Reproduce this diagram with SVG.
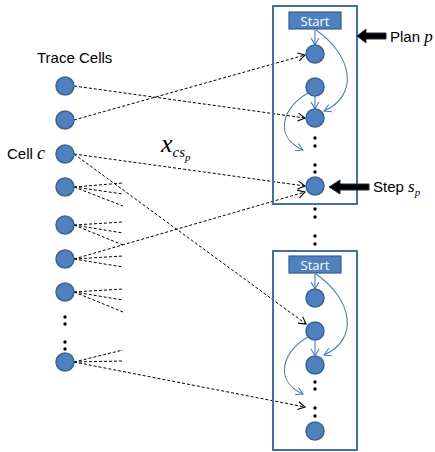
<svg xmlns="http://www.w3.org/2000/svg" width="435" height="452" viewBox="0 0 435 452">
  <style>
    .cell { fill: #4f81bd; stroke: #3a6496; stroke-width: 1.5; }
    .box { fill: none; stroke: #41719c; stroke-width: 2; }
    .start { fill: #4f81bd; stroke: #385d8a; stroke-width: 1.2; }
    .start-t { font-family: "Open Sans", "Liberation Sans", Arial, sans-serif; font-size: 13px; fill: #ffffff; text-anchor: middle; }
    .lbl { font-family: "Liberation Sans", Arial, sans-serif; font-size: 15px; fill: #000; }
    .math { font-family: "Liberation Serif", "Times New Roman", serif; font-style: italic; fill: #000; }
    .dash { fill: none; stroke: #000; stroke-width: 1; stroke-dasharray: 3 2; }
    .flow { fill: none; stroke: #4a7ebb; stroke-width: 1.1; }
    .dot { fill: #000; }
    .bigarrow { fill: #000; stroke: #1f2f45; stroke-width: 1; }
  </style>
  <defs>
    <marker id="arrowBlack" markerUnits="userSpaceOnUse" markerWidth="10" markerHeight="10" refX="8" refY="5" orient="auto">
      <path d="M1,1 L8,5 L1,9" fill="none" stroke="#000" stroke-width="1.1"/>
    </marker>
    <marker id="arrowBlue" markerUnits="userSpaceOnUse" markerWidth="10" markerHeight="10" refX="8" refY="5" orient="auto">
      <path d="M1,1 L8,5 L1,9" fill="none" stroke="#4a7ebb" stroke-width="1.1"/>
    </marker>
  </defs>

  <!-- trace cells column -->
  <text class="lbl" x="37" y="63" font-size="13.5">Trace Cells</text>
  <text x="7" y="159"><tspan class="lbl">Cell </tspan><tspan class="math" font-size="18">c</tspan></text>

  <!-- connectors -->
  <g id="connectors">
    <!-- long cell-to-step links -->
    <line class="dash" x1="74" y1="86" x2="305" y2="118" marker-end="url(#arrowBlack)"/>
    <line class="dash" x1="74" y1="120" x2="305" y2="55" marker-end="url(#arrowBlack)"/>
    <line class="dash" x1="74" y1="154" x2="305" y2="186" marker-end="url(#arrowBlack)"/>
    <line class="dash" x1="74" y1="154" x2="306" y2="324" marker-end="url(#arrowBlack)"/>
    <line class="dash" x1="74" y1="259" x2="305" y2="192" marker-end="url(#arrowBlack)"/>
    <line class="dash" x1="74" y1="362" x2="305" y2="407" marker-end="url(#arrowBlack)"/>

    <!-- short fans -->
    <line class="dash" x1="74" y1="187" x2="123" y2="183"/>
    <line class="dash" x1="74" y1="187" x2="123" y2="194"/>
    <line class="dash" x1="74" y1="187" x2="123" y2="206"/>

    <line class="dash" x1="74" y1="225" x2="123" y2="222"/>
    <line class="dash" x1="74" y1="225" x2="123" y2="233"/>
    <line class="dash" x1="74" y1="225" x2="123" y2="245"/>

    <line class="dash" x1="74" y1="259" x2="123" y2="256"/>
    <line class="dash" x1="74" y1="259" x2="123" y2="267"/>

    <line class="dash" x1="74" y1="292" x2="123" y2="289"/>
    <line class="dash" x1="74" y1="292" x2="123" y2="300"/>
    <line class="dash" x1="74" y1="292" x2="123" y2="312"/>

    <line class="dash" x1="74" y1="362" x2="123" y2="350"/>
    <line class="dash" x1="74" y1="362" x2="123" y2="361"/>

    <!-- plan p flow -->
    <line class="flow" x1="315" y1="30" x2="315" y2="45" marker-end="url(#arrowBlue)"/>
    <path class="flow" d="M316,30 C352,55 360,95 324,111" marker-end="url(#arrowBlue)"/>
    <line class="flow" x1="315" y1="96" x2="315" y2="109" marker-end="url(#arrowBlue)"/>
    <path class="flow" d="M308,93 C284,106 272,136 303,150" marker-end="url(#arrowBlue)"/>

    <!-- second plan flow -->
    <line class="flow" x1="315" y1="274" x2="315" y2="289" marker-end="url(#arrowBlue)"/>
    <path class="flow" d="M316,274 C352,299 360,339 324,355" marker-end="url(#arrowBlue)"/>
    <line class="flow" x1="315" y1="340" x2="315" y2="356" marker-end="url(#arrowBlue)"/>
    <path class="flow" d="M308,337 C284,350 272,380 303,394" marker-end="url(#arrowBlue)"/>
  </g>

  <!-- weight label -->
  <text class="math" x="161" y="152" font-size="26">x<tspan font-size="15" dy="5">cs</tspan><tspan font-size="11" dy="4">p</tspan></text>

  <g id="trace-cells">
    <circle class="cell" cx="65" cy="86" r="9"/>
    <circle class="cell" cx="65" cy="120" r="9"/>
    <circle class="cell" cx="65" cy="154" r="9"/>
    <circle class="cell" cx="65" cy="187" r="9"/>
    <circle class="cell" cx="65" cy="225" r="9"/>
    <circle class="cell" cx="65" cy="259" r="9"/>
    <circle class="cell" cx="65" cy="292" r="9"/>
    <circle class="cell" cx="65" cy="362" r="9"/>
    <circle class="dot" cx="65" cy="317" r="1.7"/>
    <circle class="dot" cx="65" cy="324" r="1.7"/>
    <circle class="dot" cx="65" cy="342" r="1.7"/>
    <circle class="dot" cx="65" cy="349" r="1.7"/>
  </g>

  <g id="plan-p">
    <rect class="box" x="273" y="6" width="84" height="198"/>
    <rect class="start" x="289" y="12" width="52" height="17"/>
    <text class="start-t" x="315" y="25.5">Start</text>
    <circle class="cell" cx="315" cy="54" r="9"/>
    <circle class="cell" cx="315" cy="87" r="9"/>
    <circle class="cell" cx="315" cy="118" r="9"/>
    <circle class="cell" cx="315" cy="186" r="9"/>
    <circle class="dot" cx="315" cy="138" r="1.7"/>
    <circle class="dot" cx="315" cy="146" r="1.7"/>
    <circle class="dot" cx="315" cy="165" r="1.7"/>
    <circle class="dot" cx="315" cy="172" r="1.7"/>
  </g>

  <g id="between-plans">
    <circle class="dot" cx="315" cy="209" r="1.7"/>
    <circle class="dot" cx="315" cy="217" r="1.7"/>
    <circle class="dot" cx="315" cy="236" r="1.7"/>
    <circle class="dot" cx="315" cy="244" r="1.7"/>
  </g>

  <g id="plan-next">
    <rect class="box" x="273" y="251" width="84" height="199"/>
    <rect class="start" x="289" y="256" width="52" height="17"/>
    <text class="start-t" x="315" y="269.5">Start</text>
    <circle class="cell" cx="315" cy="298" r="9"/>
    <circle class="cell" cx="315" cy="331" r="9"/>
    <circle class="cell" cx="315" cy="365" r="9"/>
    <circle class="cell" cx="315" cy="431" r="9"/>
    <circle class="dot" cx="315" cy="382" r="1.7"/>
    <circle class="dot" cx="315" cy="389" r="1.7"/>
    <circle class="dot" cx="315" cy="408" r="1.7"/>
    <circle class="dot" cx="315" cy="416" r="1.7"/>
  </g>

  <g id="plan-label">
    <polygon class="bigarrow" points="357,36 366,29 366,33 386,33 386,39 366,39 366,43"/>
    <text x="390" y="42"><tspan class="lbl">Plan </tspan><tspan class="math" font-size="17">p</tspan></text>
  </g>

  <g id="step-label">
    <polygon class="bigarrow" points="329,187 340,180 340,184 369,184 369,190 340,190 340,194"/>
    <text x="373" y="192"><tspan class="lbl">Step </tspan><tspan class="math" font-size="17">s</tspan><tspan class="math" font-size="11" dy="4">p</tspan></text>
  </g>
</svg>
